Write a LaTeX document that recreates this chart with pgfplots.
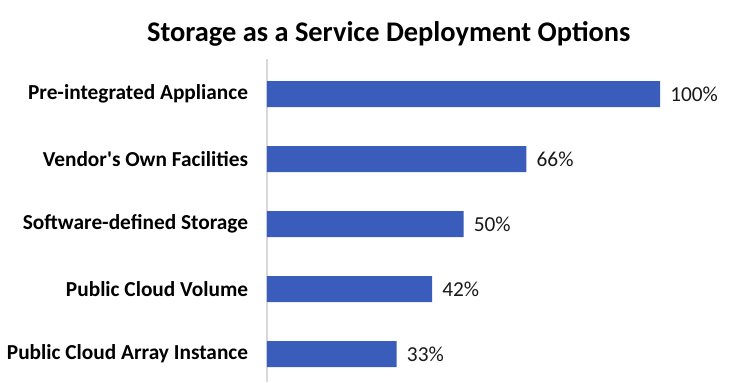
\documentclass[border=0pt]{standalone}
\usepackage{fontspec}
\setmainfont{Carlito}
\usepackage{pgfplots}
\pgfplotsset{compat=1.18}
\definecolor{barblue}{RGB}{58,92,186}
\definecolor{axgray}{RGB}{217,217,217}
\begin{document}
\begin{tikzpicture}
\begin{axis}[
  name=ax,
  scale only axis,
  width=294.75pt, height=242.25pt,
  xbar, bar width=19.5pt,
  xmin=0, xmax=100,
  ymin=-0.43, ymax=4.54,
  ytick={0,1,2,3,4},
  yticklabels={Public Cloud Array Instance,Public Cloud Volume,Software-defined Storage,Vendor\textquotesingle s Own Facilities,Pre-integrated Appliance},
  y tick label style={font=\fontsize{16}{19}\selectfont\bfseries, anchor=east, inner sep=0pt, xshift=-14pt},
  major tick length=0pt,
  axis lines=left,
  x axis line style={draw=none},
  y axis line style={draw=axgray, line width=1pt, -},
  xtick=\empty,
  /pgf/number format/assume math mode=true,
  nodes near coords={\pgfmathprintnumber[assume math mode=true]{\pgfplotspointmeta}\%},
  nodes near coords style={font=\fontsize{16}{19}\selectfont, text=black!90, anchor=west, inner sep=0pt, xshift=7.5pt},
  clip=false,
]
\addplot[fill=barblue, draw=none] coordinates {(33,0) (42,1) (50,2) (66,3) (100,4)};
\node[font=\fontsize{21.3}{25}\selectfont\bfseries, anchor=base] at (rel axis cs:0.31,1) [yshift=12.75pt] {Storage as a Service Deployment Options};
\end{axis}
\path (ax.south west) ++(-200.25pt,0) rectangle ++(551.25pt,286.5pt);
\end{tikzpicture}
\end{document}
